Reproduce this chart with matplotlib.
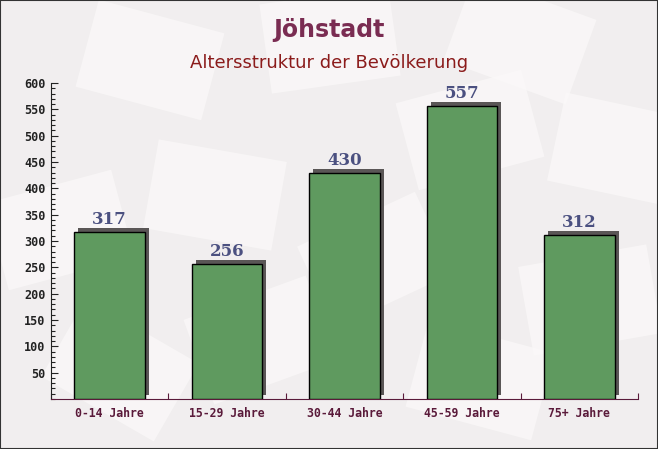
import matplotlib
matplotlib.use("Agg")
import matplotlib.pyplot as plt
import matplotlib.transforms as mtransforms
from matplotlib.patches import Rectangle
import numpy as np

categories = ["0-14 Jahre", "15-29 Jahre", "30-44 Jahre", "45-59 Jahre", "75+ Jahre"]
values = [317, 256, 430, 557, 312]
y_ticks = [50, 100, 150, 200, 250, 300, 350, 400, 450, 500, 550, 600]
title = "Jöhstadt"
subtitle = "Altersstruktur der Bevölkerung"

fig = plt.figure(figsize=(6.58, 4.49), dpi=100)
fig.patch.set_facecolor("#f1eeef")

# background layer with faint envelope shapes
bg = fig.add_axes([0, 0, 1, 1], zorder=-5)
bg.set_xlim(0, 658)
bg.set_ylim(449, 0)
bg.axis("off")
env = [(150, 60, 15), (330, 40, -8), (520, 40, 20), (60, 230, -15), (215, 195, 10),
       (375, 260, -25), (620, 150, 12), (590, 300, -10), (120, 370, 30), (480, 380, 15),
       (260, 340, -20), (470, 130, -15)]
for (cx, cy, ang) in env:
    r = Rectangle((cx - 65, cy - 45), 130, 90, angle=ang, rotation_point="center",
                  facecolor="#fbf9f9", alpha=0.7, edgecolor="none")
    bg.add_patch(r)

ax = fig.add_axes([51/658, 1-399/449, 587/658, 316/449])
ax.set_facecolor("none")

x = np.arange(len(categories))
shadow_tr = mtransforms.offset_copy(ax.transData, fig=fig, x=4, y=4, units="dots")
ax.bar(x, values, width=0.6, color="#5a5656", transform=shadow_tr, zorder=2)
ax.bar(x, values, width=0.6, color="#5f9a5f", edgecolor="black", linewidth=1.0, zorder=3)

for xi, v in zip(x, values):
    ax.text(xi, v + 7, str(v), ha="center", va="bottom", fontsize=12, fontweight="bold",
            family="DejaVu Serif", color="#4b5080", zorder=4)

ax.set_xlim(-0.5, len(categories) - 0.5)
ax.set_ylim(0, 600)
ax.set_yticks(y_ticks)
ax.set_yticks(np.arange(0, 601, 10), minor=True)
ax.set_yticklabels([str(t) for t in y_ticks], fontsize=8.5, fontweight="bold",
                   family="DejaVu Sans Mono", color="#222222")
ax.tick_params(axis="y", which="major", direction="in", length=5, width=0.8, pad=4, color="#222222")
ax.tick_params(axis="y", which="minor", direction="in", length=3, width=0.8, color="#222222")
ax.set_xticks(x)
ax.set_xticklabels(categories, fontsize=8.3, fontweight="bold", family="DejaVu Sans Mono", color="#5a1a3a")
ax.tick_params(axis="x", which="major", length=0, pad=6)
ax.set_xticks(np.arange(-0.5, len(categories), 1.0), minor=True)
ax.tick_params(axis="x", which="minor", direction="in", length=4, width=0.8, color="#5a1a3a")

for s in ["top", "right"]:
    ax.spines[s].set_visible(False)
ax.spines["left"].set_color("#222222")
ax.spines["bottom"].set_color("#5a1a3a")

fig.text(0.5, 1 - 30/449, title, ha="center", va="center", fontsize=17, fontweight="bold",
         color="#7a2c52", family="DejaVu Sans")
fig.text(0.5, 1 - 63/449, subtitle, ha="center", va="center", fontsize=13,
         color="#8b1b1b", family="DejaVu Sans")

border = Rectangle((0, 0), 1, 1, transform=fig.transFigure, fill=False, edgecolor="#333333", linewidth=1.5)
fig.patches.append(border)

fig.savefig("out.png", dpi=100, facecolor=fig.get_facecolor())
